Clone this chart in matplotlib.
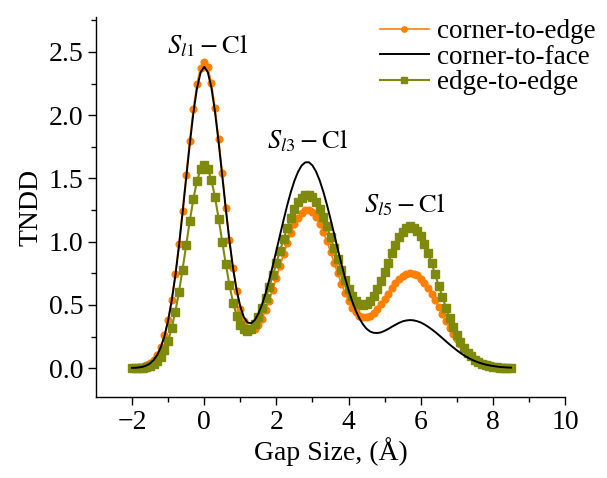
import numpy as np
import matplotlib
matplotlib.use("Agg")
import matplotlib.pyplot as plt

plt.rcParams["font.family"] = ["Liberation Serif", "DejaVu Serif"]
plt.rcParams["mathtext.fontset"] = "stix"

# gap size grid (Å), sampled every 0.1 from -2 to 8.5
gap = np.linspace(-2.0, 8.5, 106)

corner_edge = [
    0.002, 0.003, 0.006, 0.012, 0.021, 0.038, 0.065, 0.106, 0.169, 0.259,
    0.381, 0.542, 0.742, 0.978, 1.244, 1.525, 1.800, 2.050, 2.249, 2.377,
    2.422, 2.379, 2.253, 2.057, 1.812, 1.542, 1.268, 1.012, 0.789, 0.606,
    0.467, 0.373, 0.318, 0.298, 0.307, 0.339, 0.390, 0.457, 0.534, 0.621,
    0.713, 0.807, 0.899, 0.987, 1.067, 1.136, 1.191, 1.228, 1.248, 1.250,
    1.231, 1.196, 1.143, 1.077, 1.002, 0.920, 0.834, 0.749, 0.669, 0.595,
    0.532, 0.479, 0.440, 0.414, 0.402, 0.402, 0.414, 0.437, 0.468, 0.506,
    0.548, 0.590, 0.633, 0.671, 0.704, 0.729, 0.745, 0.752, 0.747, 0.733,
    0.708, 0.675, 0.634, 0.587, 0.535, 0.481, 0.426, 0.372, 0.320, 0.271,
    0.227, 0.187, 0.152, 0.121, 0.096, 0.074, 0.057, 0.043, 0.032, 0.023,
    0.017, 0.012, 0.008, 0.006, 0.004, 0.003,
]

corner_face = [
    0.002, 0.003, 0.006, 0.011, 0.021, 0.037, 0.064, 0.105, 0.166, 0.254,
    0.375, 0.533, 0.729, 0.962, 1.224, 1.499, 1.771, 2.016, 2.212, 2.338,
    2.383, 2.340, 2.218, 2.025, 1.786, 1.521, 1.255, 1.006, 0.790, 0.617,
    0.488, 0.403, 0.360, 0.355, 0.380, 0.430, 0.502, 0.591, 0.695, 0.809,
    0.929, 1.052, 1.172, 1.287, 1.392, 1.481, 1.552, 1.602, 1.627, 1.628,
    1.603, 1.554, 1.484, 1.396, 1.293, 1.180, 1.062, 0.942, 0.827, 0.717,
    0.617, 0.529, 0.454, 0.393, 0.346, 0.311, 0.289, 0.279, 0.278, 0.283,
    0.295, 0.310, 0.327, 0.343, 0.358, 0.370, 0.377, 0.380, 0.378, 0.371,
    0.361, 0.346, 0.328, 0.308, 0.286, 0.262, 0.237, 0.212, 0.187, 0.164,
    0.141, 0.120, 0.101, 0.084, 0.069, 0.056, 0.045, 0.036, 0.028, 0.022,
    0.017, 0.013, 0.009, 0.007, 0.005, 0.004,
]

edge_edge = [
    0.001, 0.001, 0.003, 0.005, 0.010, 0.018, 0.032, 0.054, 0.090, 0.142,
    0.217, 0.317, 0.445, 0.601, 0.779, 0.970, 1.163, 1.337, 1.479, 1.571,
    1.605, 1.575, 1.488, 1.351, 1.183, 1.000, 0.820, 0.656, 0.519, 0.415,
    0.344, 0.306, 0.297, 0.313, 0.350, 0.405, 0.473, 0.552, 0.640, 0.733,
    0.831, 0.927, 1.022, 1.111, 1.190, 1.258, 1.312, 1.349, 1.368, 1.369,
    1.351, 1.315, 1.262, 1.196, 1.121, 1.036, 0.948, 0.860, 0.775, 0.696,
    0.628, 0.572, 0.531, 0.505, 0.497, 0.506, 0.531, 0.571, 0.625, 0.689,
    0.760, 0.834, 0.908, 0.975, 1.033, 1.079, 1.108, 1.120, 1.112, 1.085,
    1.041, 0.982, 0.909, 0.828, 0.741, 0.651, 0.562, 0.477, 0.397, 0.325,
    0.262, 0.207, 0.160, 0.122, 0.092, 0.068, 0.049, 0.035, 0.024, 0.017,
    0.011, 0.007, 0.005, 0.003, 0.002, 0.001,
]

peak_labels = [r"$S_{l1}-\mathrm{Cl}$", r"$S_{l3}-\mathrm{Cl}$", r"$S_{l5}-\mathrm{Cl}$"]
peak_pos = [(0.1, 2.55), (2.85, 1.80), (5.55, 1.29)]

ORANGE = "#ff7f00"
OLIVE = "#7f8a0c"

fig = plt.figure(figsize=(6.07, 4.78), dpi=100)
ax = fig.add_axes([0.158, 0.169, 0.773, 0.795])

ax.plot(gap, corner_edge, color=ORANGE, lw=1.2, marker="o", ms=4.8,
        label="corner-to-edge", zorder=2)
ax.plot(gap, edge_edge, color=OLIVE, lw=1.5, marker="s", ms=6,
        label="edge-to-edge", zorder=3)
ax.plot(gap, corner_face, color="black", lw=1.4, label="corner-to-face",
        zorder=4)

for txt, (px, py) in zip(peak_labels, peak_pos):
    ax.text(px, py, txt, fontsize=19, ha="center", va="center")

ax.set_xlim(-3, 10)
ax.set_ylim(-0.23, 2.775)
ax.set_xticks(np.arange(-2, 11, 2))
ax.set_xticks(np.arange(-1, 10, 2), minor=True)
ax.set_yticks(np.arange(0, 2.6, 0.5))
ax.set_yticks(np.arange(0.25, 2.76, 0.5), minor=True)
ax.yaxis.set_major_formatter(matplotlib.ticker.FormatStrFormatter("%.1f"))
ax.tick_params(which="major", direction="out", length=6, width=1,
               labelsize=20, pad=3)
ax.tick_params(which="minor", direction="out", length=3.5, width=1)
for side in ("top", "right"):
    ax.spines[side].set_visible(False)
for side in ("left", "bottom"):
    ax.spines[side].set_linewidth(1)

ax.set_xlabel("Gap Size, (Å)", fontsize=20, labelpad=2)
ax.set_ylabel("TNDD", fontsize=20, labelpad=4)

h, l = ax.get_legend_handles_labels()
order = [0, 2, 1]
leg = ax.legend([h[i] for i in order], [l[i] for i in order], loc="upper right",
                bbox_to_anchor=(1.065, 0.995), frameon=False, fontsize=19.5,
                handlelength=1.8, handletextpad=0.3, labelspacing=0.02,
                borderpad=0, borderaxespad=0, markerscale=0.8)

fig.savefig("out.png", dpi=100)
